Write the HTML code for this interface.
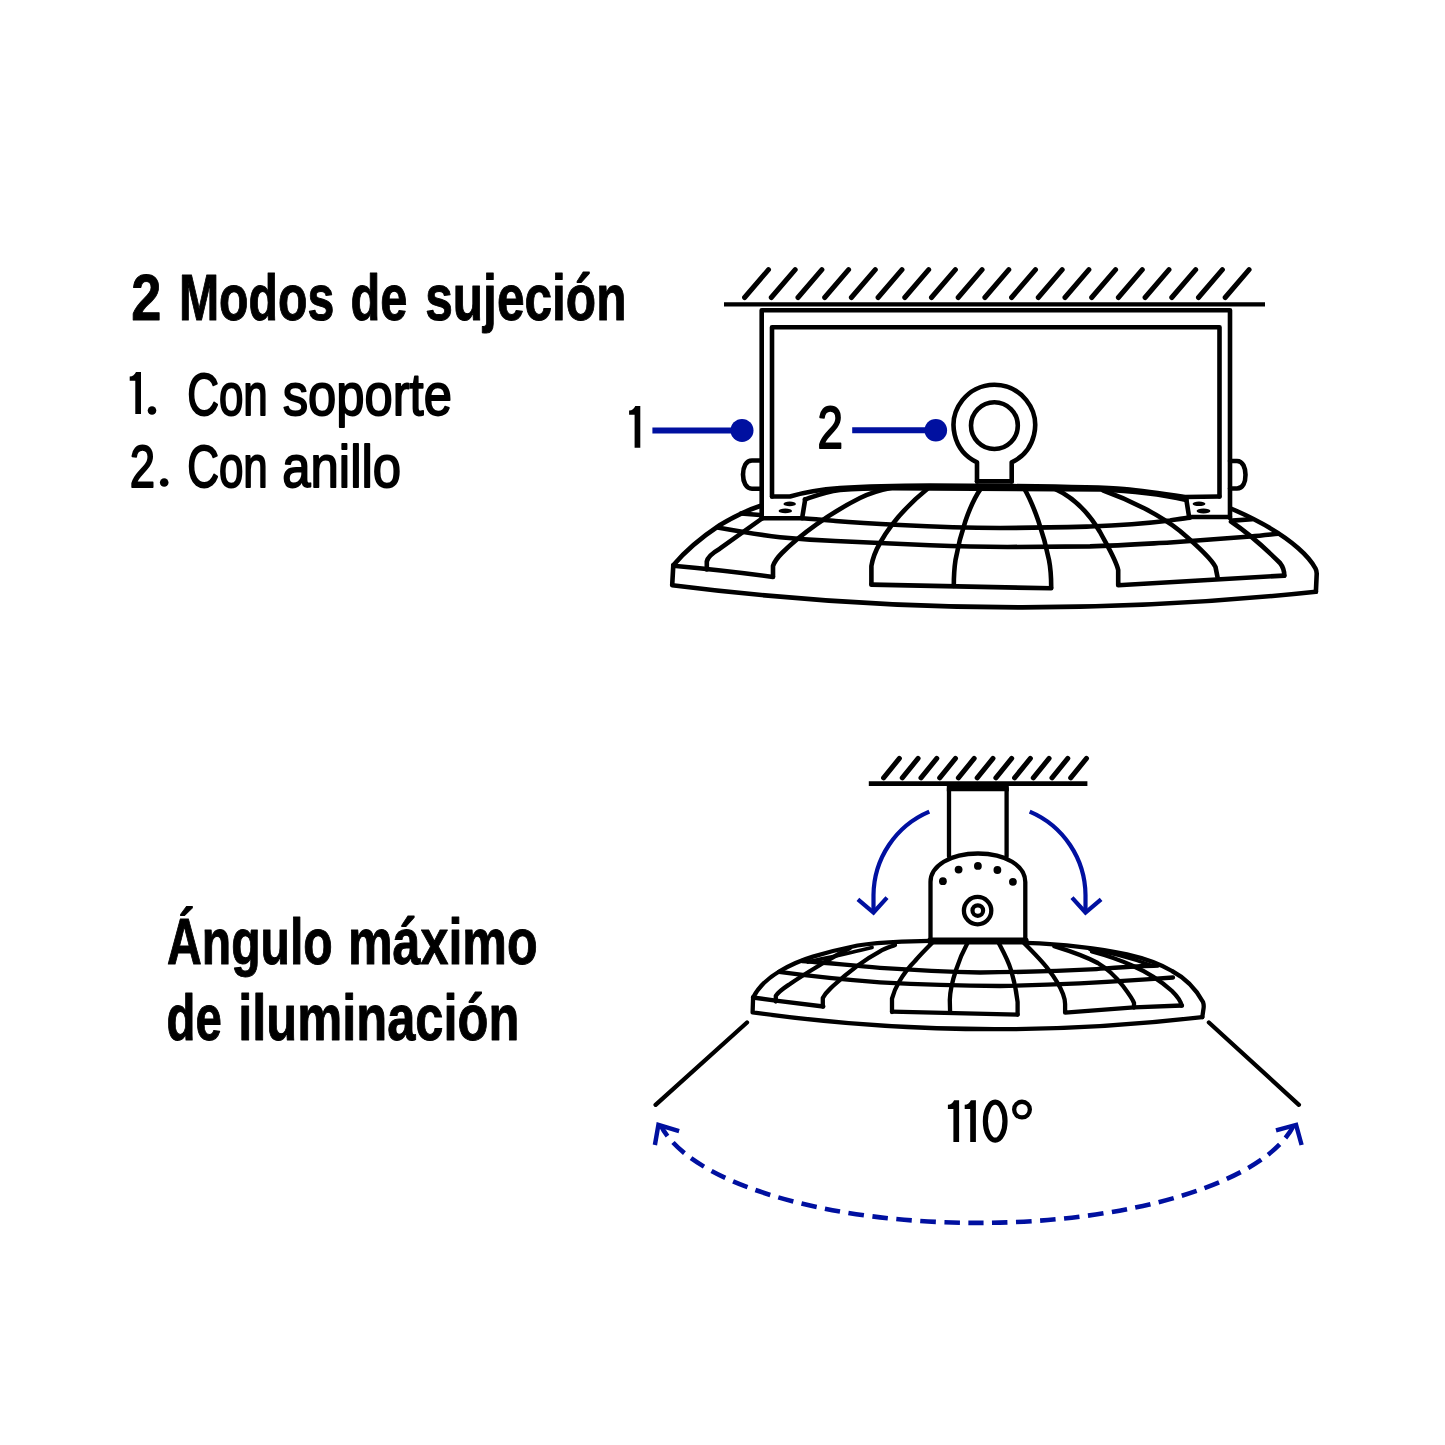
<!DOCTYPE html>
<html><head><meta charset="utf-8"><style>
html,body{margin:0;padding:0;background:#fff;width:1445px;height:1445px;overflow:hidden}
svg{display:block}
</style></head><body>
<svg width="1445" height="1445" viewBox="0 0 1445 1445">
<g font-family="Liberation Sans, sans-serif">
<text transform="translate(131.15 319.60) scale(0.8383 1)" font-size="64.61" font-weight="bold" fill="#000" stroke="#000" stroke-width="0.9" stroke-linejoin="round" vector-effect="non-scaling-stroke">2</text>
<text transform="translate(178.89 319.60) scale(0.7362 1)" font-size="65.55" font-weight="bold" fill="#000" stroke="#000" stroke-width="0.9" stroke-linejoin="round" vector-effect="non-scaling-stroke">Modos</text>
<text transform="translate(350.50 319.60) scale(0.7442 1)" font-size="65.55" font-weight="bold" fill="#000" stroke="#000" stroke-width="0.9" stroke-linejoin="round" vector-effect="non-scaling-stroke">de</text>
<text transform="translate(425.21 319.60) scale(0.7570 1)" font-size="65.55" font-weight="bold" fill="#000" stroke="#000" stroke-width="0.9" stroke-linejoin="round" vector-effect="non-scaling-stroke">sujeción</text>
<text transform="translate(187.15 414.60) scale(0.7377 1)" font-size="59.59" font-weight="normal" fill="#000" stroke="#000" stroke-width="1.7" stroke-linejoin="round" vector-effect="non-scaling-stroke">Con</text>
<text transform="translate(282.65 414.60) scale(0.8516 1)" font-size="59.59" font-weight="normal" fill="#000" stroke="#000" stroke-width="1.7" stroke-linejoin="round" vector-effect="non-scaling-stroke">soporte</text>
<text transform="translate(129.78 486.50) scale(0.7745 1)" font-size="58.74" font-weight="normal" fill="#000" stroke="#000" stroke-width="1.7" stroke-linejoin="round" vector-effect="non-scaling-stroke">2</text>
<text transform="translate(187.15 486.50) scale(0.7377 1)" font-size="59.59" font-weight="normal" fill="#000" stroke="#000" stroke-width="1.7" stroke-linejoin="round" vector-effect="non-scaling-stroke">Con</text>
<text transform="translate(282.18 486.50) scale(0.8552 1)" font-size="59.59" font-weight="normal" fill="#000" stroke="#000" stroke-width="1.7" stroke-linejoin="round" vector-effect="non-scaling-stroke">anillo</text>
<text transform="translate(167.05 964.00) scale(0.7522 1)" font-size="63.95" font-weight="bold" fill="#000" stroke="#000" stroke-width="0.9" stroke-linejoin="round" vector-effect="non-scaling-stroke">Ángulo</text>
<text transform="translate(347.88 964.00) scale(0.7854 1)" font-size="63.95" font-weight="bold" fill="#000" stroke="#000" stroke-width="0.9" stroke-linejoin="round" vector-effect="non-scaling-stroke">máximo</text>
<text transform="translate(166.56 1040.10) scale(0.7400 1)" font-size="63.95" font-weight="bold" fill="#000" stroke="#000" stroke-width="0.9" stroke-linejoin="round" vector-effect="non-scaling-stroke">de</text>
<text transform="translate(238.21 1040.10) scale(0.7915 1)" font-size="63.95" font-weight="bold" fill="#000" stroke="#000" stroke-width="0.9" stroke-linejoin="round" vector-effect="non-scaling-stroke">iluminación</text>
<text transform="translate(817.46 448.30) scale(0.7689 1)" font-size="59.46" font-weight="normal" fill="#000" stroke="#000" stroke-width="1.7" stroke-linejoin="round" vector-effect="non-scaling-stroke">2</text>
<g fill="#000"><path d="M640.3 447.7V405.9H635.3Q633.5 410.1 629.1 410.5V414.7H634.6V447.7Z"/><path d="M141.0 414.0V372.0H136.0Q134.2 376.2 129.7 376.6V380.8H135.3V414.0Z"/><circle cx="152" cy="410.5" r="4.3"/><circle cx="164.2" cy="482.5" r="4.3"/><path d="M959.1 1142.0V1100.2H954.1Q952.3 1104.4 947.9 1104.8V1109.0H953.4V1142.0Z"/><path d="M975.9 1142.0V1100.2H970.9Q969.1 1104.4 964.7 1104.8V1109.0H970.2V1142.0Z"/></g>
<g fill="none" stroke="#000"><ellipse cx="995.2" cy="1121.2" rx="9.8" ry="19" stroke-width="5.2"/><circle cx="1022" cy="1109.6" r="7.85" stroke-width="4.3"/></g>
</g>
<g fill="none" stroke="#000" stroke-linecap="round" stroke-linejoin="round">
<path stroke-width="5" d="M744.6 297.5l23.9 -27.8 M771.3 297.5l23.9 -27.8 M798.0 297.5l23.9 -27.8 M824.7 297.5l23.9 -27.8 M851.4 297.5l23.9 -27.8 M878.1 297.5l23.9 -27.8 M904.8 297.5l23.9 -27.8 M931.5 297.5l23.9 -27.8 M958.2 297.5l23.9 -27.8 M984.9 297.5l23.9 -27.8 M1011.6 297.5l23.9 -27.8 M1038.3 297.5l23.9 -27.8 M1065.0 297.5l23.9 -27.8 M1091.7 297.5l23.9 -27.8 M1118.4 297.5l23.9 -27.8 M1145.1 297.5l23.9 -27.8 M1171.8 297.5l23.9 -27.8 M1198.5 297.5l23.9 -27.8 M1225.2 297.5l23.9 -27.8"/>
<path stroke-width="4.4" stroke-linecap="butt" d="M724 304.4H1265"/>
<path stroke-width="5" d="M883.6 777.8l15.8 -19.4 M902.3 777.8l15.8 -19.4 M921.0 777.8l15.8 -19.4 M939.7 777.8l15.8 -19.4 M958.4 777.8l15.8 -19.4 M977.2 777.8l15.8 -19.4 M995.9 777.8l15.8 -19.4 M1014.6 777.8l15.8 -19.4 M1033.3 777.8l15.8 -19.4 M1052.0 777.8l15.8 -19.4 M1070.7 777.8l15.8 -19.4"/>
<path stroke-width="4.6" stroke-linecap="butt" d="M868.8 783.6H1087.4"/>
</g>
<!-- TOP LAMP -->
<g fill="none" stroke="#000" stroke-width="4.6" stroke-linecap="round" stroke-linejoin="round">
<path d="M761.7 518.5V310.3H1230V518"/>
<path d="M772 496.5V327.2H1219.5V496.5"/>
<path d="M761 460.5H752C746 460.5 743 467 743 474.6C743 482 746 488.7 752 488.7H761"/>
<path d="M1230 461H1237C1243 461 1245.5 468 1245.5 474.8C1245.5 482 1243 488.5 1237 488.5H1230"/>
<path d="M977 481.5V462.3A40.75 40.75 0 1 1 1011.7 462.3V481.5"/>
<circle cx="994.4" cy="425.6" r="23.4"/>
<path stroke-width="4.6" d="M977 481.4H1011.7"/>
<path stroke-width="4.5" d="M772 496.5H790C805 492 820 489.5 840 488C870 486 900 485.5 930 485.5L1007 486C1050 486.5 1100 487 1124 489C1145 491 1165 494 1185 497L1219.5 496.5"/>
<path d="M804.9 499.4C815 496 825 492 840 490C855 489 870 488.5 890 488.3L1100 489.5C1135 491 1160 494 1186.3 500"/>
<path d="M673.3 565.3C686 550 705 535 720 525C735 516 748 510 760 506"/>
<path d="M1232 509C1255 519 1280 532 1298 548C1306 555 1312 562 1315.5 568.5Q1316.8 571 1316.7 574L1315.9 591.7"/>
<path d="M741 513.5L760 515"/>
<path d="M1232 520.6L1252 519.3"/>
<path d="M673.3 565.3L672.2 585.2Q995 626 1315.9 591.7"/>
<path d="M673.3 565.8Q725 570.5 773 577"/>
<path d="M761.7 518.3H802.1L805.2 499.4"/>
<path d="M1230 517H1189.1L1186.3 499.3"/>
<g fill="#000" stroke="none">
<ellipse cx="789.7" cy="503.9" rx="6.2" ry="2.3"/><ellipse cx="785.3" cy="510.9" rx="6.7" ry="2.4"/>
<ellipse cx="1199" cy="503.8" rx="6.4" ry="2.3"/><ellipse cx="1203.5" cy="511" rx="6.9" ry="2.4"/>
</g>
<path d="M706.8 569.5V561.5C707.5 557.5 711.5 553.5 719.8 548.7L762 518.5"/>
<path d="M773 576.4V566C775 560 778 557 782 553C800 535 830 513 860 498C870 493 880 490 893 487.5"/>
<path d="M871.4 584.1V566C873 556 876 550 880 543C890 525 905 507 928.4 488"/>
<path d="M981 488.3C969 505 960 535 955.5 560C954 570 953.8 578 953.8 586"/>
<path d="M1024.1 488.3C1034 505 1044 535 1049 560C1051 570 1051.2 578 1051.2 587.5"/>
<path d="M871.4 584.6Q960 586.3 1051.2 588.3"/>
<path d="M1055 488.8C1075 498 1090 515 1100 532C1108 547 1116 560 1118.2 570V585.2L1284.3 575.6"/>
<path d="M1103.3 490.5C1130 500 1160 515 1180 531C1200 548 1212 560 1215.5 567L1217.5 577"/>
<path d="M1231 521.5C1248 533 1265 548 1280 563C1284 568 1284.3 572 1284.3 575.7"/>
<path d="M802 518.3C815 519 825 520 835.4 521C860 523 880 524 900 525C930 526.5 960 527.8 1000 528C1040 527.8 1070 527 1090 526.5C1120 525.5 1150 523 1170 520.5C1178 519.3 1184 518.3 1190 517.6"/>
<path d="M717.5 527.5C740 531.5 760 535 780 537.3C800 539.3 820 540.5 835.4 541C870 542.5 900 544 930 545.3C960 546.5 980 547 1007.5 547C1040 546.8 1070 546.6 1090 546.4C1120 545.5 1146 543.8 1170 542.5C1200 540.5 1230 538 1250.5 536.5C1262 535.6 1270 534.6 1278 533.8"/>

</g>
<!-- BOTTOM LAMP -->
<g fill="none" stroke="#000" stroke-width="4.3" stroke-linecap="round" stroke-linejoin="round">
<path d="M949 856.5V788.5H1006.6V856.5"/>
<path stroke-width="5.5" stroke-linecap="butt" d="M946.8 788.6H1008.8"/>
<path d="M930.5 939.7V882C930.5 866 950 853.5 978 853.5C1006 853.5 1025.3 866 1025.3 882V939.7"/>
<path stroke-width="6.8" d="M930.5 941H1025.3"/>
<g fill="#000" stroke="none">
<circle cx="942.9" cy="881.2" r="3.9"/><circle cx="958.6" cy="869.6" r="3.9"/><circle cx="977.9" cy="865.9" r="3.9"/><circle cx="997.4" cy="870" r="3.9"/><circle cx="1012.9" cy="881.8" r="3.9"/>
</g>
<circle cx="977.6" cy="910.6" r="13.7" stroke-width="4.3"/>
<circle cx="977.8" cy="910.6" r="5.3" stroke-width="4.2"/>
<path d="M753.1 997.5C758 988 768 978 780 971C792 964 805 959 813 956.6C825 953 840 949 857.5 945.5C870 943.5 885 942.3 901.8 941.6L930 940.8"/>
<path d="M1025.3 942.8C1060 944 1100 948.5 1127 954.4C1145 958.5 1160 964 1172 971C1187 979 1197 991 1203 1002Q1204 1005 1203.6 1008L1202.3 1017.1"/>
<path d="M753.1 997.5L752.6 1012.4Q975 1043.5 1202.3 1017.1"/>
<path d="M753.1 997.5L775.8 1000.7L823.3 1006.5"/>
<path stroke-width="3.8" d="M808 962C820 959 840 955.5 855 951.5C862 950 866 949 872 947.5"/>
<path stroke-width="3.6" d="M1090 949.5C1110 952.5 1130 957.5 1150 965"/>
<path d="M802 961C830 963 850 965.5 880 967.8C910 969.8 940 971.5 980 972.5C1020 972.2 1060 971 1096.6 969.1C1120 967.5 1140 966 1158 965.5"/>
<path d="M779 971.8C810 976 830 978.5 880 982.3C920 984.5 950 985.7 1000 986C1050 985 1100 982.5 1146.3 979.3L1173 977.5"/>
<path d="M775.8 1001.5V995.9C779 991 784 988 790 984C800 977 810 971 820 965C830 959 838 954 850 948"/>
<path d="M822.8 1006.5V998C826 992 829 990 833 986C845 975 860 962 880 951.3C885 948.5 890 947 895 945"/>
<path d="M892 1012V998.6C894 991 896 987 899 982C903 975 908 968 915 961C920 955 925 950 932 943"/>
<path d="M892 1011.7Q955 1013 1017.6 1014.6"/>
<path d="M967.5 943C962 953 958.5 962 956 970C952 982 950 992 949.8 1000L950.1 1012.8"/>
<path d="M998.7 943C1004 953 1008 960 1011 970C1014 980 1016.5 992 1017.6 1002V1014.6"/>
<path d="M1024 943C1035 954 1042 961 1048 969C1055 978 1060 986 1063 994C1064.5 998 1065.1 1002 1065.1 1004V1012.7L1134 1007.3L1182 1005.5"/>
<path d="M1054.2 946.1C1070 951 1085 956 1097.8 963C1108 969 1116 977 1123 986C1129 994 1133 1000 1134 1003V1007.5"/>
<path d="M1092 951.5C1105 955 1120 960 1132 965.5C1148 972.5 1162 982 1172 991C1178 997 1181 1001 1181.5 1005.5"/>
<path d="M747 1022.5L655.6 1104.8M1208.9 1022.5L1298.9 1104.8"/>

</g>
<g fill="none" stroke="#0010a0" stroke-width="6">
<path d="M652.4 430.4H742M852.2 430.3H935.8"/>
</g>
<g fill="#0010a0"><circle cx="742" cy="430.4" r="11.5"/><circle cx="935.8" cy="430.3" r="11.3"/></g>
<g fill="none" stroke="#0010a0" stroke-width="4.2">
<path d="M929.3 811.6A91.5 91.5 0 0 0 873.5 895V911"/>
<path d="M857.9 899.3L873.5 912.5L887 897.6"/>
<path d="M1029.7 811.6A91.5 91.5 0 0 1 1085.5 895V911"/>
<path d="M1101.1 899.3L1085.5 912.5L1072 897.6"/>
<path stroke-width="4.6" d="M660.5 1124.9A322 119.5 0 0 0 1294.0 1124.9" stroke-dasharray="15.5 8.5" stroke-dashoffset="2.23"/>
<path stroke-width="4.4" d="M679.1 1131.1L658.4 1124.9L654.9 1145M1276 1130.4L1296.1 1124.9L1301.6 1145"/>
</g>
</svg>
</body></html>
